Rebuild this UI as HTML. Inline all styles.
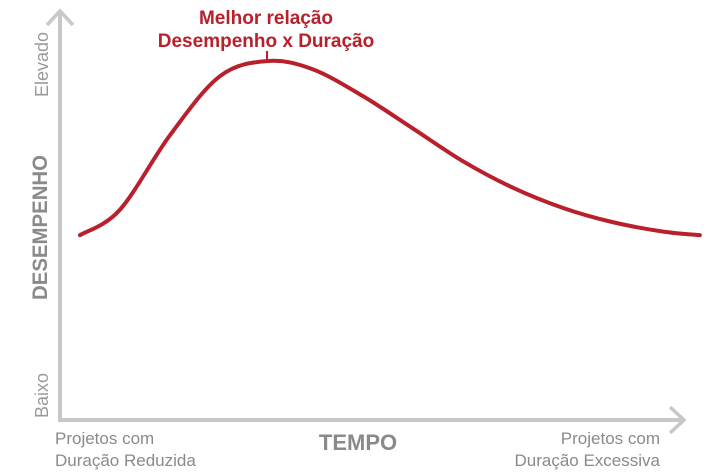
<!DOCTYPE html>
<html><head><meta charset="utf-8"><style>
html,body{margin:0;padding:0;background:#fff;width:727px;height:475px;overflow:hidden}
svg{display:block}
text{font-family:"Liberation Sans",sans-serif}
</style></head><body>
<svg id="chart" width="727" height="475">
<g>
<line x1="60" y1="12" x2="60" y2="422" stroke="#c8c8c8" stroke-width="4"/>
<polyline points="47,25 60,11 73,25" fill="none" stroke="#c8c8c8" stroke-width="3.5"/>
</g>
<g>
<line x1="58" y1="420" x2="683" y2="420" stroke="#c8c8c8" stroke-width="4"/>
<polyline points="670,407 684,420 670,433" fill="none" stroke="#c8c8c8" stroke-width="3.5"/>
</g>
<text transform="translate(48,97) rotate(-90)" font-size="18" fill="#9a9a9a">Elevado</text>
<text transform="translate(48,418) rotate(-90)" font-size="18" fill="#9a9a9a">Baixo</text>
<text transform="translate(47,300) rotate(-90)" font-size="21" font-weight="bold" fill="#8a8a8a" textLength="145" lengthAdjust="spacingAndGlyphs">DESEMPENHO</text>
<text x="358" y="450" text-anchor="middle" font-size="22" font-weight="bold" fill="#8a8a8a">TEMPO</text>
<text font-size="17" fill="#8a8a8a"><tspan x="55" y="444">Projetos com</tspan><tspan x="55" y="466">Duração Reduzida</tspan></text>
<text font-size="17" fill="#8a8a8a" text-anchor="end"><tspan x="660" y="444">Projetos com</tspan><tspan x="660" y="466">Duração Excessiva</tspan></text>
<text font-size="19" font-weight="bold" fill="#b8212b" text-anchor="middle"><tspan x="266" y="24">Melhor relação</tspan><tspan x="266" y="47">Desempenho x Duração</tspan></text>
<line x1="267" y1="51" x2="267" y2="61" stroke="#b8212b" stroke-width="2"/>
<path id="curve" fill="none" stroke="#b8212b" stroke-width="4" stroke-linecap="round"/>
</svg>
<script>
const timeValues=[3.2,9.6,17.7,25.7,33.4,40.5,48.5,56.6,64.6,72.6,80.7,88.7,96.7,102.7];
const performanceValues=[45.3,51.5,69.9,84.3,88,86,79.5,71.5,63.5,57,52,48.5,46.2,45.3];
function xScale(v){return 60+v*6.23;}
function yScale(v){return 420-v*4.08;}
const pts=timeValues.map((t,i)=>[xScale(t),yScale(performanceValues[i])]);
let d="M"+pts[0][0]+","+pts[0][1];
for(let i=0;i<pts.length-1;i++){
const p0=pts[i-1]||pts[i],p1=pts[i],p2=pts[i+1],p3=pts[i+2]||pts[i+1];
const c1=[p1[0]+(p2[0]-p0[0])/6,p1[1]+(p2[1]-p0[1])/6];
const c2=[p2[0]-(p3[0]-p1[0])/6,p2[1]-(p3[1]-p1[1])/6];
d+=" C"+c1+" "+c2+" "+p2;
}
document.getElementById('curve').setAttribute('d',d);
</script>
</body></html>
